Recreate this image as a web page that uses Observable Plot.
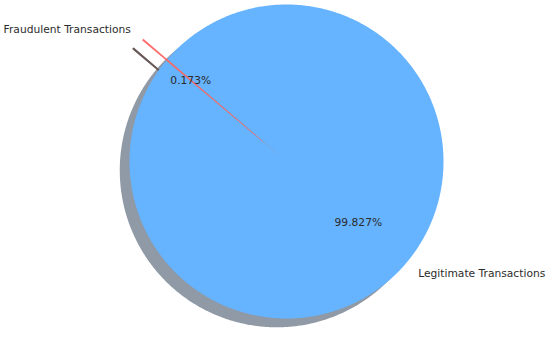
<!DOCTYPE html>
<html><head><meta charset="utf-8">
<script src="https://cdn.jsdelivr.net/npm/d3@7"></script>
<script src="https://cdn.jsdelivr.net/npm/@observablehq/plot@0.6"></script>
<style>body{margin:0;background:#fff}</style>
</head><body><div id="chart"></div>
<script>
const labels = ["Legitimate Transactions", "Fraudulent Transactions"];
const percents = [99.827, 0.173];
const colors = ["#66b3ff", "#ff6666"];
const shadowColors = ["#1f364d", "#3a2424"];
const explode = [0, 0.2];
const startAngle = 140;

const total = d3.sum(percents);
let acc = startAngle;
const slices = labels.map((label, i) => {
  const sweep = percents[i] / total * 360;
  const s = {id: i, label, value: percents[i], color: colors[i], shadow: shadowColors[i],
             explode: explode[i], start: acc, end: acc + sweep};
  acc += sweep;
  s.mid = (s.start + s.end) / 2 * Math.PI / 180;
  s.cx = s.explode * Math.cos(s.mid);
  s.cy = s.explode * Math.sin(s.mid);
  return s;
});

function wedgePoints(dx, dy) {
  const pts = [];
  for (const s of slices) {
    const n = Math.max(4, Math.ceil((s.end - s.start) * 2));
    pts.push({id: s.id, x: s.cx + dx, y: s.cy + dy, color: s.color, shadow: s.shadow});
    for (let k = 0; k <= n; k++) {
      const a = (s.start + (s.end - s.start) * k / n) * Math.PI / 180;
      pts.push({id: s.id, x: s.cx + dx + Math.cos(a), y: s.cy + dy + Math.sin(a), color: s.color, shadow: s.shadow});
    }
    pts.push({id: s.id, x: s.cx + dx, y: s.cy + dy, color: s.color, shadow: s.shadow});
  }
  return pts;
}

const wedges = wedgePoints(0, 0);
const shadows = wedgePoints(-0.062, -0.056);

const labelDist = 1.1, pctDist = 0.6;
const labelData = slices.map(s => ({
  text: s.label,
  x: s.cx + labelDist * Math.cos(s.mid),
  y: s.cy + labelDist * Math.sin(s.mid),
  side: Math.cos(s.mid) < 0 ? "end" : "start"
}));
const pctData = slices.map(s => ({
  text: s.value.toFixed(3) + "%",
  x: s.cx + pctDist * Math.cos(s.mid),
  y: s.cy + pctDist * Math.sin(s.mid)
}));

const R = 157, W = 550, H = 337, CX = 286, CY = 161;
const chart = Plot.plot({
  width: W, height: H,
  margin: 0,
  style: {fontFamily: "DejaVu Sans", background: "#fff"},
  x: {domain: [-CX / R, (W - CX) / R], axis: null},
  y: {domain: [-(H - CY) / R, CY / R], axis: null},
  color: {type: "identity"},
  marks: [
    Plot.line(shadows.filter(d => d.id === 0), {x: "x", y: "y", z: "id", fill: "shadow", fillOpacity: 0.5, stroke: "none", curve: "linear"}),
    Plot.line(shadows.filter(d => d.id === 1), {x: "x", y: "y", z: "id", fill: "shadow", fillOpacity: 0.75, stroke: "shadow", strokeOpacity: 0.6, strokeWidth: 0.9, curve: "linear"}),
    Plot.line(wedges.filter(d => d.id === 0), {x: "x", y: "y", z: "id", fill: "color", stroke: "none", curve: "linear"}),
    Plot.line(wedges.filter(d => d.id === 1), {x: "x", y: "y", z: "id", fill: "color", stroke: "color", strokeOpacity: 0.5, strokeWidth: 0.6, curve: "linear"}),
    Plot.text(labelData.filter(d => d.side === "end"), {x: "x", y: "y", text: "text", textAnchor: "end", fontSize: 10.7, fill: "#2b2b2b"}),
    Plot.text(labelData.filter(d => d.side === "start"), {x: "x", y: "y", text: "text", textAnchor: "start", fontSize: 10.7, fill: "#2b2b2b"}),
    Plot.text(pctData, {x: "x", y: "y", text: "text", fontSize: 10.7, fill: "#2b2b2b"})
  ]
});
document.getElementById("chart").appendChild(chart);
</script>
</body></html>
